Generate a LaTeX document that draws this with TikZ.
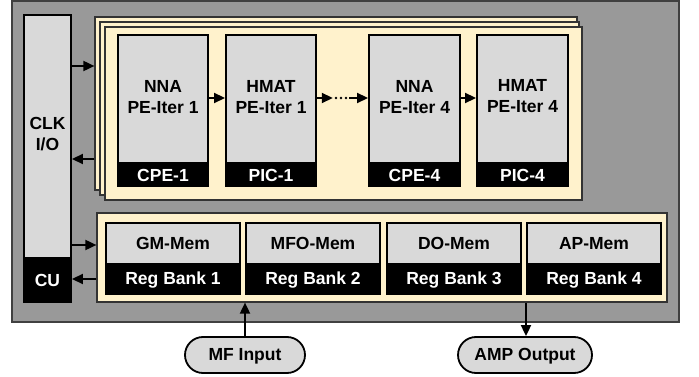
\documentclass[tikz,border=0pt]{standalone}
\usepackage{fontspec}
\setmainfont{Liberation Sans}
\usetikzlibrary{arrows.meta,fit,calc}
\definecolor{chipgray}{HTML}{999999}
\definecolor{cream}{HTML}{FFF2CC}
\definecolor{boxgray}{HTML}{D9D9D9}
\tikzset{
  chip/.style={draw=black!75, line width=1.1pt, fill=chipgray, inner sep=0pt},
  sheet/.style={draw=black!80, line width=1.2pt, fill=cream, inner sep=0pt},
  graybox/.style={draw=black, line width=1.9pt, fill=boxgray, inner sep=0pt},
  band/.style={draw=black, line width=1.9pt, fill=black, inner sep=0pt},
  lbl/.style={font=\bfseries\fontsize{17.5}{21}\selectfont, align=center, inner sep=0pt},
  wlbl/.style={lbl, text=white},
  link/.style={-{Triangle[length=11pt,width=10pt]}, line width=1.8pt},
  pill/.style={draw=black, line width=1.8pt, fill=boxgray, rounded corners=18pt, inner sep=0pt}
}
\begin{document}
\begin{tikzpicture}[x=1pt,y=-1pt]
\useasboundingbox (0,0) rectangle (699,377);

% chip outline
\node[chip, fit={(12,1) (679,322)}] (chipbox) {};

% clock / IO column with control unit
\node[graybox, fit={(24,15) (71,302)}] (clk) {};
\node[band, fit={(24,258) (71,302)}] (cu) {};
\node[lbl] at (47.5,134) {CLK\\I/O};
\node[wlbl] at (47.5,280) {CU};

% stacked processing sheets
\node[sheet, fit={(95,17) (577,190)}] (sheetc) {};
\node[sheet, fit={(100,22) (579,195)}] (sheetb) {};
\node[sheet, fit={(105,27) (582,200)}] (sheeta) {};

% processing elements
\foreach \nm/\xa/\xb/\bot in {nna1/118/208/CPE-1, hmat1/226/316/PIC-1, nna4/369/460/CPE-4, hmat4/477/568/PIC-4}{
  \node[graybox, fit={(\xa,35) (\xb,186)}] (\nm) {};
  \node[band, fit={(\xa,163) (\xb,186)}] (\nm band) {};
  \node[wlbl] at ($(\nm band.center)+(0,1)$) {\bot};
}
\node[lbl] at (163,97) {NNA\\PE-Iter 1};
\node[lbl] at (271,97) {HMAT\\PE-Iter 1};
\node[lbl] at (414.5,97) {NNA\\PE-Iter 4};
\node[lbl] at (522.5,96) {HMAT\\PE-Iter 4};

% memory panel
\node[sheet, fit={(97,213) (667,302)}] (mem) {};
\foreach \nm/\xa/\xb/\top/\bot in {gm/106/240/GM-Mem/Reg Bank 1, mfo/246/380/MFO-Mem/Reg Bank 2, do/387/521/DO-Mem/Reg Bank 3, ap/527/661/AP-Mem/Reg Bank 4}{
  \node[graybox, fit={(\xa,223) (\xb,294)}] (\nm) {};
  \node[band, fit={(\xa,264) (\xb,294)}] (\nm band) {};
  \node[lbl] at ($(\nm.north)!0.5!(\nm band.north)+(0,1)$) {\top};
  \node[wlbl] at ($(\nm band.center)+(0,1)$) {\bot};
}

% external ports
\node[pill, fit={(185,337) (305,373)}] (mfin) {};
\node[lbl] at (245,356) {MF Input};
\node[pill, fit={(458,337) (592,373)}] (ampout) {};
\node[lbl] at (525,356) {AMP Output};

% rows used by the connectors
\coordinate (rowa) at (0,66);
\coordinate (rowb) at (0,159);
\coordinate (rowc) at (0,98);
\coordinate (rowd) at (0,245);
\coordinate (rowe) at (0,279);
\coordinate (colin) at (245,0);
\coordinate (colout) at (526,0);

\draw[link] (clk.east |- rowa) -- (sheetc.west |- rowa);
\draw[link] (sheetc.west |- rowb) -- (clk.east |- rowb);
\draw[link] (clk.east |- rowd) -- (mem.west |- rowd);
\draw[link] (mem.west |- rowe) -- (cu.east |- rowe);

\draw[link] (nna1.east |- rowc) -- (hmat1.west |- rowc);
\node[minimum width=16pt, minimum height=4pt, inner sep=0pt] (dots) at (341,98) {};
\foreach \dx in {-5,0,5} \fill ([xshift=\dx pt]dots.center) circle (1.3pt);
\draw[link] (hmat1.east |- rowc) -- (dots.west);
\draw[link] (dots.east) -- (nna4.west |- rowc);
\draw[link] (nna4.east |- rowc) -- (hmat4.west |- rowc);

\draw[link] (mfin.north) -- (mem.south -| colin);
\draw[link] (mem.south -| colout) -- (ampout.north -| colout);
\end{tikzpicture}
\end{document}
